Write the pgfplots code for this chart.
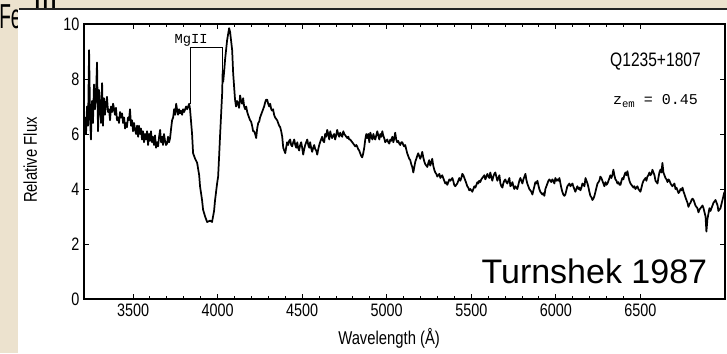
\documentclass[border=0pt]{standalone}
\usepackage{pgfplots}
\pgfplotsset{compat=1.18}
\usepackage{fontspec}
\setmainfont{Liberation Sans}
\setmonofont{Liberation Mono}
\newfontfamily\cond[FakeStretch=0.8]{Liberation Sans}
\newfontfamily\narrowfont[FakeStretch=0.55]{Liberation Sans}
\definecolor{parch}{RGB}{236,226,206}
\definecolor{topline}{RGB}{35,35,35}
\begin{document}
\begin{tikzpicture}[x=0.75pt,y=0.75pt]
\useasboundingbox (0,0) rectangle (727,353);
\clip (0,0) rectangle (727,353);
\fill[parch] (0,0) rectangle (727,353);
\node[anchor=base west,inner sep=0pt,font=\narrowfont\fontsize{26}{28}\selectfont] at (-1,324) {Fe};
\node[anchor=base west,inner sep=0pt,font=\fontsize{22}{24}\selectfont] at (33,335) {III};
\fill[topline] (19,342.5) rectangle (727,345);
\fill[white] (18,0) rectangle (727,342.5);
\begin{axis}[
  at={(63pt,40.5pt)}, anchor=south west,
  scale only axis, width=480.75pt, height=206.25pt,
  xmin=3210, xmax=7000, ymin=0, ymax=10,
  xtick={3500,4000,...,6500}, minor x tick num=4,
  ytick={0,2,...,10},
  tick align=inside,
  major tick length=4pt, minor tick length=2.2pt,
  every tick/.style={black, line width=0.7pt},
  axis line style={black, line width=0.9pt},
  /pgf/number format/assume math mode=true,
  /pgf/number format/1000 sep={},
  tick label style={font=\cond\fontsize{13.5}{14}\selectfont},
  xlabel={Wavelength (Å)},
  ylabel={Relative Flux},
  label style={font=\cond\fontsize{13.9}{15}\selectfont},
  xlabel style={at={(rel axis cs:0.476,-0.142)}, anchor=center},
  ylabel style={at={(rel axis cs:-0.084,0.505)}, anchor=center},
  clip=false,
]
\addplot[black, line width=1.3pt, line join=round] coordinates {
(3212,6.2) (3216,6.6) (3222,6.0) (3228,7.0) (3234,6.3) (3240,9.05) (3246,6.6) (3251,5.8) (3257,7.2) (3263,6.4)
(3269,7.8) (3275,6.9) (3281,7.4) (3287,8.6) (3293,6.1) (3299,7.6) (3305,7.0) (3311,6.4) (3317,7.85) (3322,6.3)
(3328,7.3) (3334,6.7) (3340,7.1) (3346,7.35) (3352,6.8) (3358,6.9) (3364,6.5) (3370,7.0) (3376,6.8) (3382,7.1)
(3388,6.9) (3393,6.7) (3399,6.95) (3405,6.5) (3411,6.6) (3417,6.4) (3423,6.8) (3429,6.6) (3435,6.75) (3441,6.4)
(3447,6.6) (3453,6.2) (3458,6.4) (3464,6.25) (3470,6.6) (3476,6.5) (3482,6.9) (3488,6.3) (3494,6.5) (3500,6.1)
(3506,6.4) (3512,6.15) (3518,6.0) (3524,6.3) (3530,5.9) (3535,6.3) (3541,6.0) (3547,6.2) (3553,5.8) (3559,6.1)
(3565,5.7) (3571,6.0) (3577,5.8) (3583,6.1) (3589,5.6) (3595,6.0) (3601,5.75) (3606,6.1) (3612,5.7) (3618,5.9)
(3624,5.6) (3630,5.95) (3636,5.5) (3642,5.7) (3648,5.55) (3654,5.9) (3660,6.15) (3666,5.7) (3672,5.9) (3677,5.6)
(3683,6.0) (3689,5.75) (3695,5.6) (3701,5.65) (3707,5.9) (3713,5.7) (3719,5.85) (3725,6.2) (3731,6.5) (3737,6.6)
(3743,6.9) (3749,6.7) (3755,7.1) (3760,6.9) (3766,6.7) (3772,6.9) (3778,6.75) (3784,6.85) (3790,6.7) (3796,6.9)
(3802,6.8) (3808,6.9) (3814,7.0) (3820,6.9) (3826,7.0) (3832,7.1) (3837,6.9)
(3849,6.0) (3855,5.3) (3867,5.1) (3879,4.95) (3891,4.5) (3896,4.1) (3908,3.6) (3914,3.25) (3926,3.0) (3938,2.8)
(3956,2.85) (3967,2.8) (3979,3.2) (3985,3.6) (3997,4.2) (4003,4.45) (4009,5.2) (4015,6.0) (4027,7.5) (4030,8.3)
(4033,7.9) (4039,8.3) (4044,8.7) (4056,9.4) (4068,9.85) (4074,9.7) (4086,9.05) (4092,8.2) (4103,7.25) (4109,7.0)
(4115,7.2) (4121,7.1) (4127,6.95) (4133,7.4) (4139,7.2) (4145,7.1) (4151,7.3) (4157,7.0) (4163,6.9) (4169,7.0)
(4175,6.8) (4180,6.7) (4186,6.6) (4192,6.5) (4198,6.45) (4204,6.3) (4210,6.1) (4216,6.1) (4222,6.0) (4228,5.85)
(4234,6.2) (4240,6.4) (4246,6.45) (4251,6.6) (4257,6.7) (4263,6.8) (4269,6.9) (4275,7.0) (4281,7.15) (4287,7.25)
(4293,7.25) (4299,7.1) (4305,7.0) (4311,7.1) (4317,6.9) (4322,6.85) (4328,6.9) (4334,6.7) (4340,6.6) (4346,6.55)
(4352,6.5) (4358,6.4) (4364,6.3) (4370,6.25) (4376,6.1) (4382,5.9) (4388,5.5) (4394,5.4) (4400,5.3) (4405,5.5)
(4411,5.7) (4417,5.6) (4423,5.75) (4429,5.8) (4435,5.6) (4441,5.55) (4447,5.7) (4453,5.8) (4459,5.6) (4465,5.5)
(4471,5.7) (4476,5.5) (4482,5.4) (4488,5.6) (4494,5.7) (4500,5.5) (4506,5.25) (4512,5.45) (4518,5.6) (4524,5.7)
(4530,5.8) (4536,5.6) (4542,5.5) (4547,5.7) (4553,5.5) (4559,5.35) (4565,5.5) (4571,5.6) (4577,5.45) (4583,5.4)
(4589,5.25) (4595,5.45) (4601,5.6) (4606,5.7) (4612,5.8) (4618,5.9) (4624,5.75) (4630,5.7) (4636,6.0) (4642,5.9)
(4648,6.15) (4654,6.0) (4660,5.8) (4666,6.1) (4671,5.95) (4677,5.85) (4683,5.95) (4689,6.0) (4695,5.8) (4701,5.95)
(4707,6.15) (4713,6.0) (4719,5.9) (4725,6.05) (4731,5.95) (4737,5.9) (4743,6.1) (4749,6.0) (4755,5.95) (4761,5.9)
(4767,5.85) (4773,5.9) (4778,5.8) (4784,5.8) (4790,5.75) (4796,5.7) (4802,5.65) (4808,5.6) (4814,5.55) (4820,5.6)
(4825,5.55) (4831,5.45) (4837,5.4) (4843,5.3) (4849,5.2) (4855,5.15) (4861,5.3) (4867,5.5) (4873,5.8) (4879,6.0)
(4885,5.85) (4891,6.0) (4897,5.7) (4903,6.05) (4909,5.9) (4915,5.8) (4921,6.0) (4927,5.85) (4932,5.8) (4938,5.95)
(4944,6.1) (4950,5.95) (4956,5.8) (4962,6.0) (4968,5.9) (4974,6.1) (4979,5.95) (4985,5.85) (4991,5.7) (4997,5.75)
(5003,5.8) (5009,5.7) (5015,5.65) (5021,5.8) (5027,5.75) (5033,5.9) (5039,5.7) (5045,5.85) (5050,6.05) (5056,5.8)
(5062,5.7) (5068,5.75) (5074,5.65) (5080,5.6) (5086,5.7) (5092,5.7) (5098,5.6) (5103,5.55) (5109,5.6) (5115,5.45)
(5121,5.3) (5127,5.2) (5133,5.1) (5139,5.05) (5145,4.9) (5151,4.8) (5157,4.6) (5163,4.8) (5169,5.0) (5175,5.1)
(5180,5.2) (5186,5.3) (5192,5.2) (5198,5.1) (5204,5.2) (5210,5.35) (5216,5.15) (5222,5.0) (5228,4.9) (5234,4.85)
(5240,4.8) (5246,4.95) (5251,5.05) (5257,4.85) (5263,4.95) (5269,5.1) (5275,4.85) (5281,4.7) (5287,4.6) (5293,4.55)
(5299,4.45) (5305,4.5) (5311,4.55) (5317,4.4) (5322,4.45) (5328,4.5) (5334,4.4) (5340,4.3) (5346,4.2) (5352,4.25)
(5358,4.15) (5364,4.25) (5370,4.35) (5376,4.3) (5382,4.35) (5388,4.4) (5393,4.3) (5399,4.15) (5405,4.1) (5411,4.15)
(5417,4.2) (5423,4.3) (5429,4.4) (5435,4.3) (5441,4.4) (5447,4.55) (5453,4.5) (5459,4.4) (5465,4.3) (5471,4.2)
(5476,4.1) (5482,4.05) (5488,3.95) (5494,4.0) (5500,3.95) (5506,3.9) (5512,4.0) (5518,4.1) (5524,4.05) (5530,4.15)
(5536,4.25) (5541,4.2) (5547,4.3) (5553,4.25) (5559,4.35) (5565,4.4) (5571,4.45) (5577,4.5) (5583,4.35) (5589,4.45)
(5595,4.55) (5601,4.45) (5607,4.4) (5612,4.6) (5618,4.45) (5624,4.3) (5630,4.45) (5636,4.55) (5642,4.6) (5648,4.45)
(5654,4.3) (5660,4.4) (5666,4.5) (5672,4.2) (5678,4.1) (5684,4.05) (5689,4.2) (5695,4.3) (5701,4.35) (5707,4.25)
(5713,4.2) (5719,4.3) (5725,4.4) (5731,4.1) (5737,4.15) (5743,4.25) (5749,4.1) (5754,4.0) (5760,4.1) (5766,4.05)
(5772,4.0) (5778,4.15) (5784,4.3) (5790,4.4) (5796,4.3) (5802,4.2) (5808,4.35) (5814,4.45) (5820,4.55) (5825,4.35)
(5831,4.2) (5837,4.1) (5843,4.0) (5849,3.95) (5855,3.9) (5861,3.8) (5867,3.95) (5873,4.1) (5879,4.25) (5885,4.2)
(5891,4.3) (5896,4.15) (5902,4.0) (5908,3.9) (5914,3.85) (5920,3.8) (5926,3.85) (5932,3.75) (5938,4.0) (5944,4.1)
(5950,4.2) (5956,4.3) (5962,4.35) (5967,4.3) (5973,4.25) (5979,4.35) (5985,4.3) (5991,4.2) (5997,4.4) (6003,4.3)
(6009,4.35) (6015,4.3) (6021,4.4) (6027,4.2) (6032,4.05) (6038,3.9) (6044,3.8) (6050,3.75) (6056,3.8) (6062,3.95)
(6068,4.1) (6074,4.15) (6080,4.2) (6086,4.1) (6092,4.15) (6098,4.2) (6103,4.1) (6109,4.0) (6115,3.9) (6121,4.0)
(6127,4.1) (6133,4.0) (6139,4.05) (6145,3.95) (6151,4.05) (6157,4.2) (6163,4.15) (6169,4.1) (6175,4.4) (6181,4.3)
(6187,4.2) (6193,4.05) (6198,3.9) (6204,3.75) (6210,3.7) (6216,3.6) (6222,3.65) (6228,3.75) (6234,3.9) (6240,4.05)
(6246,4.2) (6252,4.25) (6257,4.3) (6263,4.45) (6269,4.4) (6275,4.3) (6281,4.2) (6287,4.1) (6293,4.25) (6299,4.15)
(6305,4.2) (6311,4.3) (6317,4.4) (6322,4.5) (6328,4.4) (6334,4.5) (6340,4.7) (6346,4.5) (6352,4.35) (6358,4.3)
(6364,4.2) (6370,4.25) (6376,4.15) (6382,4.15) (6388,4.3) (6393,4.4) (6399,4.35) (6405,4.5) (6411,4.6) (6417,4.5)
(6423,4.65) (6429,4.45) (6435,4.3) (6441,4.2) (6447,4.15) (6453,4.1) (6459,4.05) (6464,4.1) (6470,4.0) (6476,4.05)
(6482,4.1) (6488,4.0) (6494,3.95) (6500,3.9) (6506,4.05) (6512,4.2) (6518,4.3) (6524,4.35) (6530,4.4) (6535,4.3)
(6541,4.45) (6547,4.5) (6553,4.6) (6559,4.5) (6565,4.55) (6571,4.7) (6577,4.6) (6583,4.5) (6589,4.3) (6595,4.25)
(6601,4.2) (6606,4.4) (6612,4.6) (6618,4.7) (6624,4.6) (6630,4.95) (6636,4.6) (6642,4.5) (6648,4.4) (6654,4.35)
(6660,4.25) (6666,4.35) (6672,4.3) (6678,4.2) (6683,4.15) (6689,4.1) (6695,4.15) (6701,4.2) (6707,4.0) (6713,4.05)
(6719,3.95) (6725,3.85) (6731,3.9) (6737,4.0) (6743,3.95) (6749,4.05) (6755,3.9) (6761,3.8) (6766,3.7) (6772,3.6)
(6778,3.5) (6784,3.35) (6790,3.45) (6796,3.5) (6802,3.6) (6808,3.65) (6814,3.6) (6820,3.5) (6825,3.4) (6831,3.35)
(6837,3.3) (6843,3.15) (6849,3.25) (6855,3.3) (6861,3.35) (6867,3.4) (6873,3.3) (6879,3.15) (6885,3.0) (6890,2.45)
(6896,2.9) (6902,3.1) (6908,3.3) (6914,3.2) (6920,3.3) (6926,3.4) (6932,3.5) (6938,3.55) (6944,3.6) (6950,3.5)
(6956,3.4) (6961,3.2) (6967,3.25) (6973,3.3) (6979,3.45) (6985,3.6) (6991,3.75) (6997,3.9)
};
\addplot[black, line width=0.8pt] coordinates {(3837,7.1) (3837,9.13) (4027,9.13) (4027,8.2)};
\node[font=\ttfamily\fontsize{10.3}{11}\selectfont, inner sep=0pt] at (axis cs:3843,9.42) {MgII};
\node[font=\cond\fontsize{14.6}{16}\selectfont, inner sep=0pt] at (axis cs:6589,8.65) {Q1235+1807};
\node[font=\ttfamily\fontsize{11.25}{12}\selectfont, inner sep=0pt] at (axis cs:6589,7.2) {z\raisebox{-0.45ex}{\fontsize{8}{9}\selectfont em} = 0.45};
\node[font=\fontsize{25.5}{27}\selectfont, inner sep=0pt, anchor=base east] at (axis cs:6896,0.58) {Turnshek 1987};
\end{axis}
\end{tikzpicture}
\end{document}
